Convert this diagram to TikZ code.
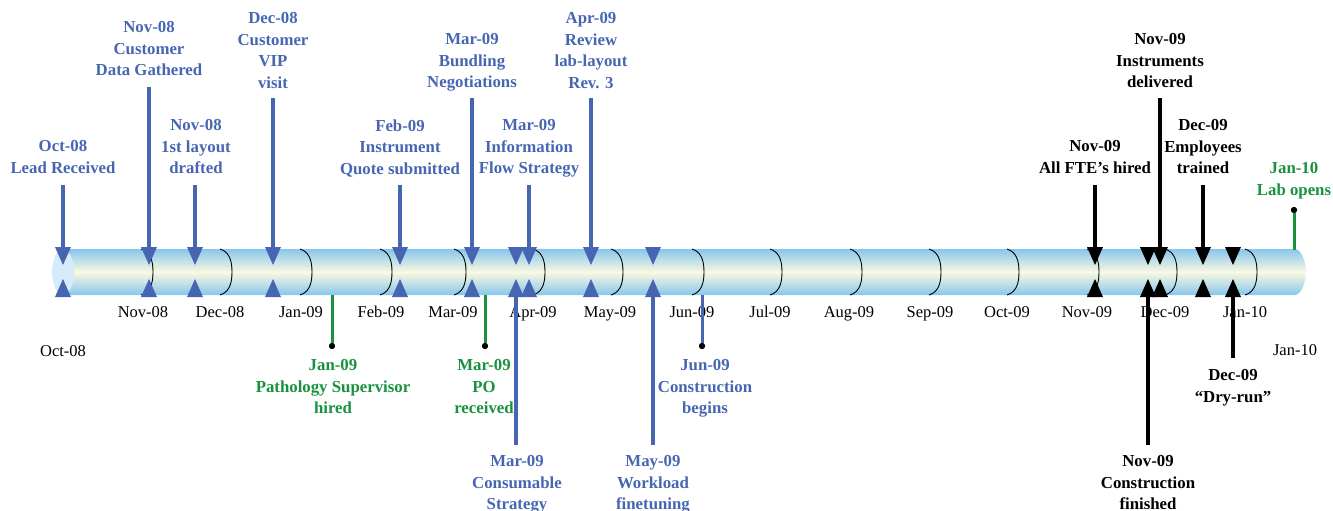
\documentclass[tikz,border=0pt]{standalone}
\usepackage{fontspec}
\setmainfont{Liberation Serif}
\definecolor{evblue}{RGB}{70,102,178}
\definecolor{evgreen}{RGB}{24,146,62}
\definecolor{tubeedge}{RGB}{136,198,236}
\definecolor{tubemid}{RGB}{250,249,226}
\definecolor{tubeend}{RGB}{214,236,250}
\tikzset{
  evlabel/.style={font=\bfseries\fontsize{16.8}{21.5}\selectfont, align=center, inner sep=0pt, anchor=north},
  monthlabel/.style={font=\fontsize{16.5}{20}\selectfont, inner sep=0pt, anchor=base},
  stem/.style={line width=4pt},
  thinstem/.style={line width=3pt},
  sepline/.style={line width=0.9pt, black},
  dotend/.style={circle, fill=black, inner sep=0pt, minimum size=6pt},
  marker/.pic={
    \fill (-8,-25) -- (8,-25) -- (0,-7) -- cycle;
    \fill (-8,25) -- (8,25) -- (0,7) -- cycle;
  }
}
\begin{document}
\begin{tikzpicture}[x=1pt,y=-1pt]
\useasboundingbox (0,0) rectangle (1333,511);
% tube
\shade[top color=tubeedge, bottom color=tubeedge, middle color=tubemid]
  (63,249) -- (1295,249) .. controls (1301,249) and (1306,262) .. (1306,272)
  .. controls (1306,282) and (1301,295) .. (1295,295) -- (63,295) -- cycle;
\fill[tubeend] (63,272) ellipse [x radius=11pt, y radius=23pt];
% month separators
\foreach \s in {153,232,312,392,466,545,623,704,782,862,941,1019,1099,1177,1257}{
  \draw[sepline] (\s-12,249) .. controls (\s-2,252) and (\s,262) .. (\s,272)
    .. controls (\s,282) and (\s-2,292) .. (\s-12,295);
}
% month labels
\foreach \mx/\mt [count=\i] in {143/Nov-08,220/Dec-08,301/Jan-09,381/Feb-09,453/Mar-09,533/Apr-09,610/May-09,692/Jun-09,770/Jul-09,849/Aug-09,930/Sep-09,1007/Oct-09,1087/Nov-09,1165/Dec-09,1245/Jan-10}{
  \node[monthlabel] (m\i) at (\mx,317) {\mt};
}
\node[monthlabel] (mstart) at (63,356) {Oct-08};
\node[monthlabel] (mend) at (1295,355) {Jan-10};
% markers
\foreach \px in {63,149,195,273,400,472,516,529,591,653}{
  \pic[color=evblue] at (\px,272) {marker};
}
\foreach \px in {1095,1148,1160,1203,1233}{
  \pic[color=black] at (\px,272) {marker};
}
% ---- blue events above
\node[evlabel, evblue] (e1) at (63,140.5) {Oct-08\\Lead Received};
\coordinate (e1s) at (63,185); \coordinate (e1t) at (63,252);
\draw[stem, evblue] (e1s) -- (e1t);
\node[evlabel, evblue] (e2) at (149,21.5) {Nov-08\\Customer\\Data Gathered};
\coordinate (e2s) at (149,87); \coordinate (e2t) at (149,252);
\draw[stem, evblue] (e2s) -- (e2t);
\node[evlabel, evblue] (e3) at (196,119.5) {Nov-08\\1st layout\\drafted};
\coordinate (e3s) at (195,185); \coordinate (e3t) at (195,252);
\draw[stem, evblue] (e3s) -- (e3t);
\node[evlabel, evblue] (e4) at (273,12.5) {Dec-08\\Customer\\VIP\\visit};
\coordinate (e4s) at (273,98); \coordinate (e4t) at (273,252);
\draw[stem, evblue] (e4s) -- (e4t);
\node[evlabel, evblue] (e5) at (400,119.5) {Feb-09\\Instrument\\Quote submitted};
\coordinate (e5s) at (400,185); \coordinate (e5t) at (400,252);
\draw[stem, evblue] (e5s) -- (e5t);
\node[evlabel, evblue] (e6) at (472,33.5) {Mar-09\\Bundling\\Negotiations};
\coordinate (e6s) at (472,98); \coordinate (e6t) at (472,252);
\draw[stem, evblue] (e6s) -- (e6t);
\node[evlabel, evblue] (e7) at (529,119.5) {Mar-09\\Information\\Flow Strategy};
\coordinate (e7s) at (529,185); \coordinate (e7t) at (529,252);
\draw[stem, evblue] (e7s) -- (e7t);
\node[evlabel, evblue] (e8) at (591,12.5) {Apr-09\\Review\\lab-layout\\Rev. 3};
\coordinate (e8s) at (591,98); \coordinate (e8t) at (591,252);
\draw[stem, evblue] (e8s) -- (e8t);
% ---- blue events below
\node[evlabel, evblue] (e9) at (517,455.5) {Mar-09\\Consumable\\Strategy};
\coordinate (e9s) at (516,445); \coordinate (e9t) at (516,292);
\draw[stem, evblue] (e9s) -- (e9t);
\node[evlabel, evblue] (e10) at (653,455.5) {May-09\\Workload\\finetuning};
\coordinate (e10s) at (653,445); \coordinate (e10t) at (653,292);
\draw[stem, evblue] (e10s) -- (e10t);
\node[evlabel, evblue] (e11) at (705,359.5) {Jun-09\\Construction\\begins};
\coordinate (e11t) at (702,295);
\node[dotend] (e11d) at (702,346) {};
\draw[thinstem, evblue] (e11t) -- (e11d.center);
% ---- green events
\node[evlabel, evgreen] (e12) at (333,359.5) {Jan-09\\Pathology Supervisor\\hired};
\coordinate (e12t) at (332,295);
\node[dotend] (e12d) at (332,346) {};
\draw[thinstem, evgreen] (e12t) -- (e12d.center);
\node[evlabel, evgreen] (e13) at (484,359.5) {Mar-09\\PO\\received};
\coordinate (e13t) at (485,295);
\node[dotend] (e13d) at (485,346) {};
\draw[thinstem, evgreen] (e13t) -- (e13d.center);
\node[evlabel, evgreen] (e14) at (1294,162.5) {Jan-10\\Lab opens};
\coordinate (e14t) at (1294,250);
\node[dotend] (e14d) at (1294,210) {};
\draw[thinstem, evgreen] (e14t) -- (e14d.center);
\fill (e14d) circle (3pt);
\fill (e11d) circle (3pt);
\fill (e12d) circle (3pt);
\fill (e13d) circle (3pt);
% ---- black events above
\node[evlabel, black] (e15) at (1095,140.5) {Nov-09\\All FTE’s hired};
\coordinate (e15s) at (1095,185); \coordinate (e15t) at (1095,252);
\draw[stem, black] (e15s) -- (e15t);
\node[evlabel, black] (e16) at (1160,33.5) {Nov-09\\Instruments\\delivered};
\coordinate (e16s) at (1160,98); \coordinate (e16t) at (1160,252);
\draw[stem, black] (e16s) -- (e16t);
\node[evlabel, black] (e17) at (1203,119.5) {Dec-09\\Employees\\trained};
\coordinate (e17s) at (1203,185); \coordinate (e17t) at (1203,252);
\draw[stem, black] (e17s) -- (e17t);
% ---- black events below
\node[evlabel, black] (e18) at (1148,455.5) {Nov-09\\Construction\\finished};
\coordinate (e18s) at (1148,445); \coordinate (e18t) at (1148,292);
\draw[stem, black] (e18s) -- (e18t);
\node[evlabel, black] (e19) at (1233,369.5) {Dec-09\\“Dry-run”};
\coordinate (e19s) at (1233,358); \coordinate (e19t) at (1233,292);
\draw[stem, black] (e19s) -- (e19t);
\end{tikzpicture}
\end{document}
